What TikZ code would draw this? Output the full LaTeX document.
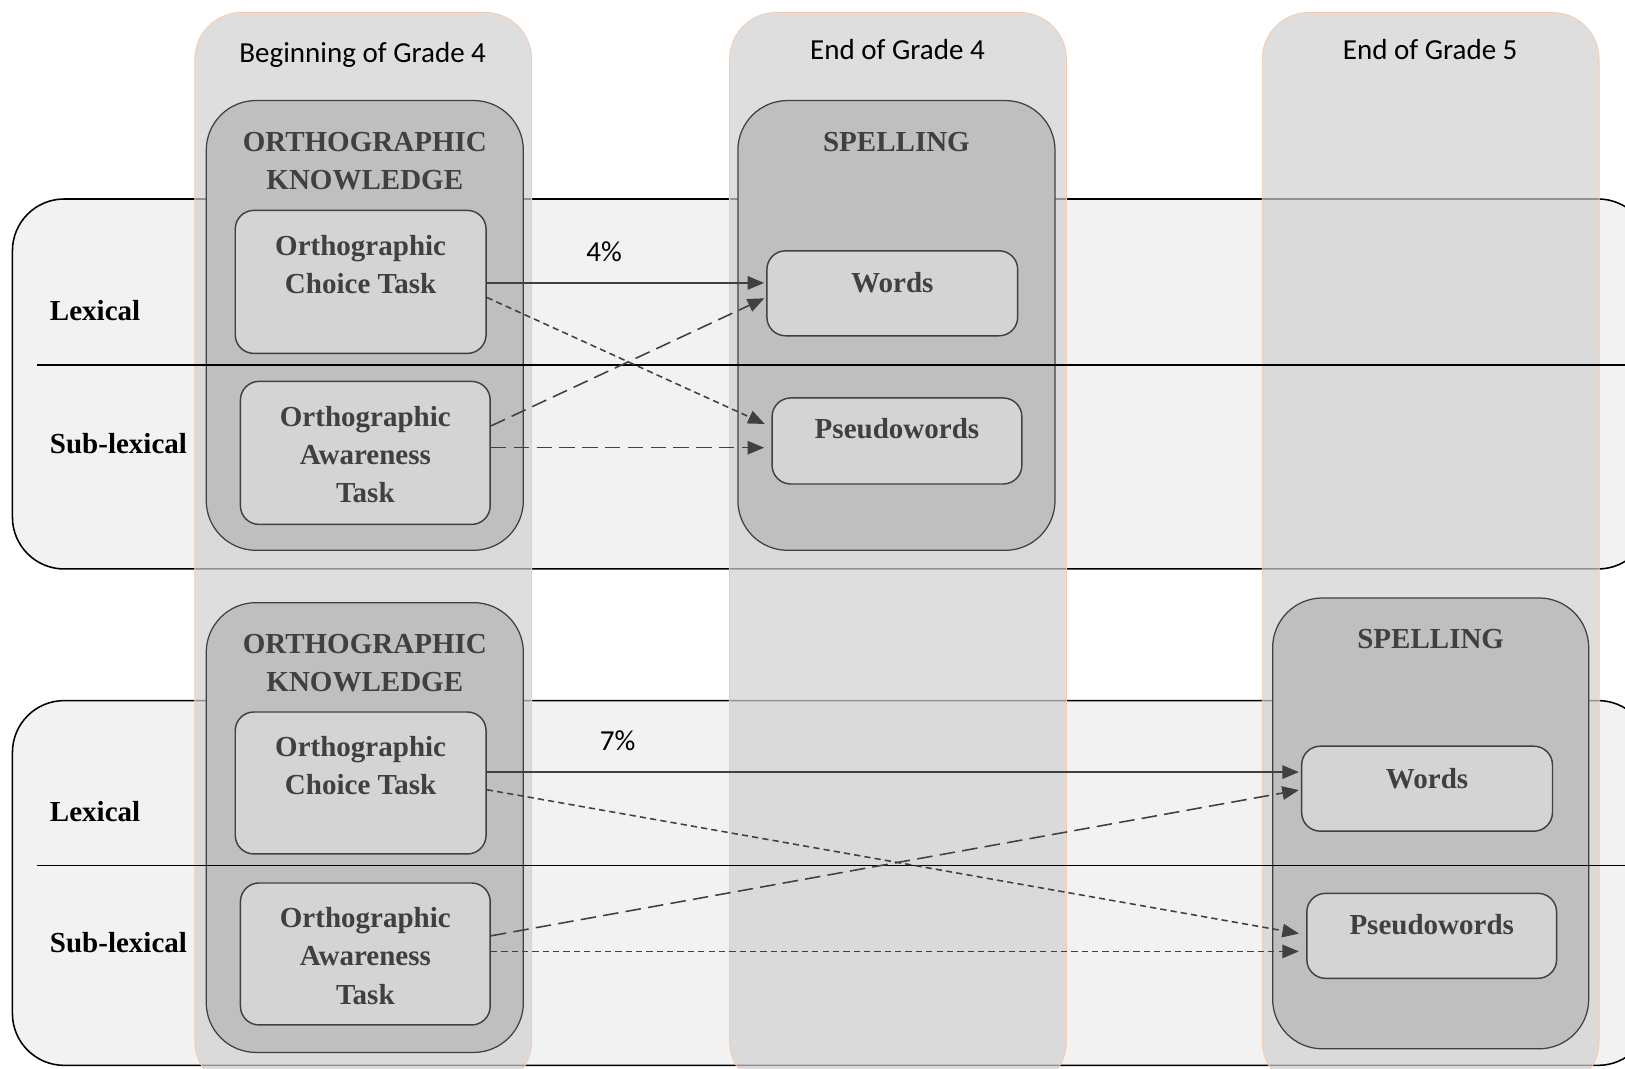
\documentclass[tikz,border=0pt]{standalone}
\usepackage{fontspec}
\setmainfont{Liberation Serif}
\newfontfamily\calibri{Carlito}
\usetikzlibrary{positioning, arrows.meta}

\definecolor{bandgray}{HTML}{F2F2F2}
\definecolor{colgray}{HTML}{D0D0D0}
\definecolor{colborder}{HTML}{F8CBAD}
\definecolor{groupgray}{HTML}{BFBFBF}
\definecolor{taskgray}{HTML}{D4D4D4}
\definecolor{darkline}{HTML}{404040}

\begin{document}
\begin{tikzpicture}[x=1pt, y=-1pt,
    rowband/.style={fill=bandgray, draw=black, line width=1.5pt, rounded corners=50pt},
    gradecol/.style={fill=colgray, fill opacity=0.7, draw=colborder, line width=0.8pt, rounded corners=45pt},
    groupbox/.style={draw=darkline, line width=1.2pt, fill=groupgray, rounded corners=48pt,
        minimum width=306pt, minimum height=434pt, inner sep=0pt},
    taskbox/.style={draw=darkline, line width=1.4pt, fill=taskgray, rounded corners=18pt,
        minimum width=242pt, inner sep=0pt},
    divider/.style={draw=black, line width=1.5pt},
    boxtext/.style={font=\fontsize{28}{37}\selectfont\bfseries, text=darkline, align=center, inner sep=0pt},
    rowlabel/.style={font=\fontsize{28}{34}\selectfont\bfseries, anchor=west, inner sep=0pt},
    colhead/.style={font=\calibri\fontsize{28}{34}\selectfont, anchor=base, inner sep=0pt},
    pct/.style={font=\calibri\fontsize{28}{34}\selectfont, inner sep=0pt},
    link/.style={draw=darkline, line width=1.5pt, -{Triangle[length=16pt, width=13pt]}},
    shortdash/.style={dash pattern=on 6pt off 4pt},
    longdash/.style={dash pattern=on 15pt off 7pt}]

    \useasboundingbox (0,0) rectangle (1568,1031);
    \clip (0,0) rectangle (1568,1031);

    % Lexical / sub-lexical bands
    \filldraw[rowband] (12,192) rectangle (1592,549);
    \filldraw[rowband] (12,676) rectangle (1592,1028);

    % Time points
    \filldraw[gradecol] (188,12) rectangle (513,1050);
    \filldraw[gradecol] (704,12) rectangle (1029,1050);
    \filldraw[gradecol] (1218,12) rectangle (1543,1050);
    \node[colhead] (t1) at (350,60) {Beginning of Grade 4};
    \node[colhead] (t2) at (866,57) {End of Grade 4};
    \node[colhead] (t3) at (1380,57) {End of Grade 5};

    % Construct boxes
    \node[groupbox] (ok1) at (352,314) {};
    \node[groupbox] (sp1) at (865,314) {};
    \node[groupbox] (ok2) at (352,798.5) {};
    \node[groupbox, minimum width=305pt, minimum height=435pt] (sp2) at (1380.5,794.5) {};
    \node[boxtext, yshift=158.5pt] (ok1txt) at (ok1) {ORTHOGRAPHIC\\KNOWLEDGE};
    \node[boxtext, yshift=177pt] (sp1txt) at (sp1) {SPELLING};
    \node[boxtext, yshift=158.5pt] (ok2txt) at (ok2) {ORTHOGRAPHIC\\KNOWLEDGE};
    \node[boxtext, yshift=177.5pt] (sp2txt) at (sp2) {SPELLING};

    % Band dividers
    \draw[divider] (36,352) -- (1592,352);
    \draw[divider] (36,835) -- (1592,835);

    \node[rowlabel] (lex1) at (48,300) {Lexical};
    \node[rowlabel] (sub1) at (48,428) {Sub-lexical};
    \node[rowlabel] (lex2) at (48,783) {Lexical};
    \node[rowlabel] (sub2) at (48,910) {Sub-lexical};

    % Tasks
    \node[taskbox, minimum height=138pt] (ct1) at (348,272) {};
    \node[taskbox, minimum width=241pt, minimum height=138pt] (at1) at (352.5,437) {};
    \node[taskbox, minimum height=82pt] (w1) at (861,283) {};
    \node[taskbox, minimum width=241pt, minimum height=83pt] (pw1) at (865.5,425.5) {};
    \node[taskbox, minimum height=137pt] (ct2) at (348,755.5) {};
    \node[taskbox, minimum width=241pt, minimum height=137pt] (at2) at (352.5,920.5) {};
    \node[taskbox, minimum height=82pt] (w2) at (1377,761) {};
    \node[taskbox, minimum width=241pt, minimum height=82pt] (pw2) at (1381.5,903) {};

    \node[boxtext, yshift=17pt] (ct1txt) at (ct1) {Orthographic\\Choice Task};
    \node[boxtext, yshift=-1.5pt] (at1txt) at (at1) {Orthographic\\Awareness\\Task};
    \node[boxtext, yshift=10pt] (w1txt) at (w1) {Words};
    \node[boxtext, yshift=11.5pt] (pw1txt) at (pw1) {Pseudowords};
    \node[boxtext, yshift=17pt] (ct2txt) at (ct2) {Orthographic\\Choice Task};
    \node[boxtext, yshift=-2pt] (at2txt) at (at2) {Orthographic\\Awareness\\Task};
    \node[boxtext, yshift=10pt] (w2txt) at (w2) {Words};
    \node[boxtext, yshift=11pt] (pw2txt) at (pw2) {Pseudowords};

    % Paths, grade 4
    \draw[link, shorten >=2pt] ([yshift=-1pt]ct1.east) -- ([yshift=10pt]w1.west);
    \draw[link, shortdash, shorten >=7pt] ([yshift=-15pt]ct1.east) -- ([yshift=13.5pt]pw1.west);
    \draw[link, longdash, shorten >=2pt] ([yshift=26pt]at1.east) -- ([yshift=-4pt]w1.west);
    \draw[link, longdash, shorten >=7pt] ([yshift=5pt]at1.east) -- ([yshift=-6.5pt]pw1.west);
    \node[pct] (p1) at (583,243) {4\%};

    % Paths, grade 5
    \draw[link, shorten >=2pt] ([yshift=10.5pt]ct2.east) -- ([yshift=16pt]w2.west);
    \draw[link, shortdash, shorten >=7pt] ([yshift=-6.5pt]ct2.east) -- ([yshift=1pt]pw2.west);
    \draw[link, longdash, shorten >=2pt] ([yshift=17.5pt]at2.east) -- ([yshift=-1pt]w2.west);
    \draw[link, shortdash, shorten >=7pt] ([yshift=2.5pt]at2.east) -- ([yshift=-15pt]pw2.west);
    \node[pct] (p2) at (596,715) {7\%};
\end{tikzpicture}
\end{document}
